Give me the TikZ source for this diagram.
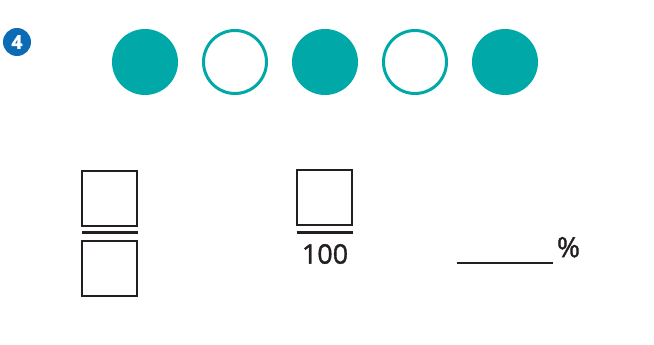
\documentclass[tikz,border=0pt]{standalone}
\usepackage{fontspec}
\setmainfont{Open Sans}
\newfontfamily\medfont[FakeBold=1.2]{Open Sans}
\newfontfamily\heavyfont[FakeBold=2]{Open Sans Bold}
\usepackage{tikz}
\usetikzlibrary{positioning}
\definecolor{teal}{HTML}{00A9A8}
\definecolor{badge}{HTML}{0B6BB5}
\definecolor{ink}{HTML}{231F20}

\begin{document}
\begin{tikzpicture}[x=1pt, y=-1pt, every node/.style={inner sep=0pt, outer sep=0pt}]
  \useasboundingbox (0,0) rectangle (654,345);

  % Badge
  \node[circle, fill=badge, minimum size=28pt] (badge) at (17,42) {};
  \node[text=white, font=\fontsize{19}{19}\selectfont\heavyfont] (num) at (badge) {4};

  % Circles
  \foreach \x/\nm/\full in {145/c1/1, 235/c2/0, 325/c3/1, 415/c4/0, 505/c5/1}{
    \ifnum\full=1
      \node[circle, fill=teal, minimum size=66pt] (\nm) at (\x,62) {};
    \else
      \node[circle, draw=teal, line width=3pt, fill=white, minimum size=63pt] (\nm) at (\x,62) {};
    \fi
  }

  % Fraction boxes
  \node[draw=ink, line width=2pt, minimum size=55pt] (top1) at (109.5,198) {};
  \draw[ink, line width=2.5pt] (82,232.7) -- (138,232.7);
  \node[draw=ink, line width=2pt, minimum size=55pt] (bot1) at (109.5,268) {};

  \node[draw=ink, line width=2pt, minimum size=55pt] (top2) at (324.7,197.7) {};
  \draw[ink, line width=2.5pt] (296.7,232.7) -- (352.7,232.7);
  \node[text=ink, font=\fontsize{27}{27}\selectfont\medfont] (hundred) at (325,254) {100};

  % Percent blank
  \draw[ink, line width=1.8pt] (456.7,263.3) -- (552.7,263.3);
  \node[text=ink, font=\fontsize{28}{28}\selectfont\medfont, anchor=south] (pct) at (568.5,257.5) {\%};
\end{tikzpicture}
\end{document}
